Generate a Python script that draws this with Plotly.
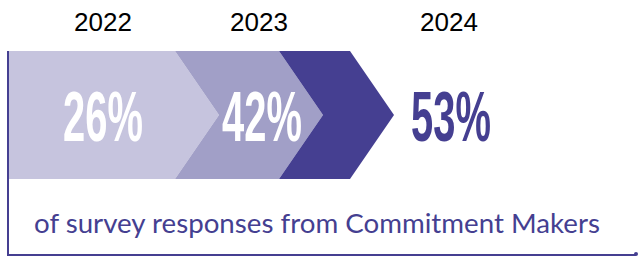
import plotly.graph_objects as go

# ---- data ----
years = ["2022", "2023", "2024"]
values = [26, 42, 53]
caption = "of survey responses from Commitment Makers"

# ---- styles / geometry (pixel-like coordinates) ----
fills = ["#C6C4DE", "#A19FC7", "#453F91"]
pct_colors = ["#FFFFFF", "#FFFFFF", "#453F91"]
dark = "#453F91"
W, H = 639, 257
band_top, band_bot = 51, 179
band_mid = (band_top + band_bot) / 2
tip = 44
seg_left = [9, 175, 279]
seg_right = [175, 279, 350]
year_x = [103, 259, 449]
pct_x = [103, 262, 451]

fig = go.Figure()

for i in range(len(years)):
    l, r = seg_left[i], seg_right[i]
    if i == 0:
        xs = [l, r, r + tip, r, l, l]
        ys = [band_top, band_top, band_mid, band_bot, band_bot, band_top]
    else:
        xs = [l, r, r + tip, r, l, l + tip, l]
        ys = [band_top, band_top, band_mid, band_bot, band_bot, band_mid, band_top]
    fig.add_trace(go.Scatter(x=xs, y=ys, fill="toself", fillcolor=fills[i],
                             mode="lines", line=dict(width=0, color=fills[i]),
                             hoverinfo="skip", showlegend=False))

# frame lines
fig.add_trace(go.Scatter(x=[8, 8, 636], y=[band_top, 255, 255], mode="lines",
                         line=dict(color=dark, width=2), hoverinfo="skip", showlegend=False))
fig.add_trace(go.Scatter(x=[636], y=[254], mode="markers",
                         marker=dict(color=dark, size=4), hoverinfo="skip", showlegend=False))

for i, (yr, v) in enumerate(zip(years, values)):
    fig.add_annotation(x=year_x[i], y=22, text=yr, showarrow=False,
                       font=dict(family="Liberation Sans, Arial", size=26, color="#000000"),
                       xanchor="center", yanchor="middle")
    fig.add_annotation(x=pct_x[i], y=117, text=f"{v}%", showarrow=False,
                       font=dict(family="Liberation Sans, Arial",
                                 size=70, color=pct_colors[i], weight="bold"),
                       xanchor="center", yanchor="middle")

fig.add_annotation(x=32, y=222, text=caption, showarrow=False, xanchor="left", yanchor="middle",
                   font=dict(family="Lato", size=27.7, color=dark))

fig.update_layout(width=W, height=H, margin=dict(l=0, r=0, t=0, b=0),
                  paper_bgcolor="white", plot_bgcolor="white",
                  xaxis=dict(range=[0, W], visible=False, fixedrange=True),
                  yaxis=dict(range=[H, 0], visible=False, fixedrange=True))

post = """
document.body.style.margin = '0';
document.querySelectorAll('.annotation-text').forEach(function (t) {
  if (t.textContent.indexOf('%') >= 0) {
    t.style.transformBox = 'fill-box';
    t.style.transformOrigin = 'center';
    t.style.transform = 'scaleX(0.57)';
  }
});
"""

fig.write_html("out.html", config={"displayModeBar": False}, post_script=post)
